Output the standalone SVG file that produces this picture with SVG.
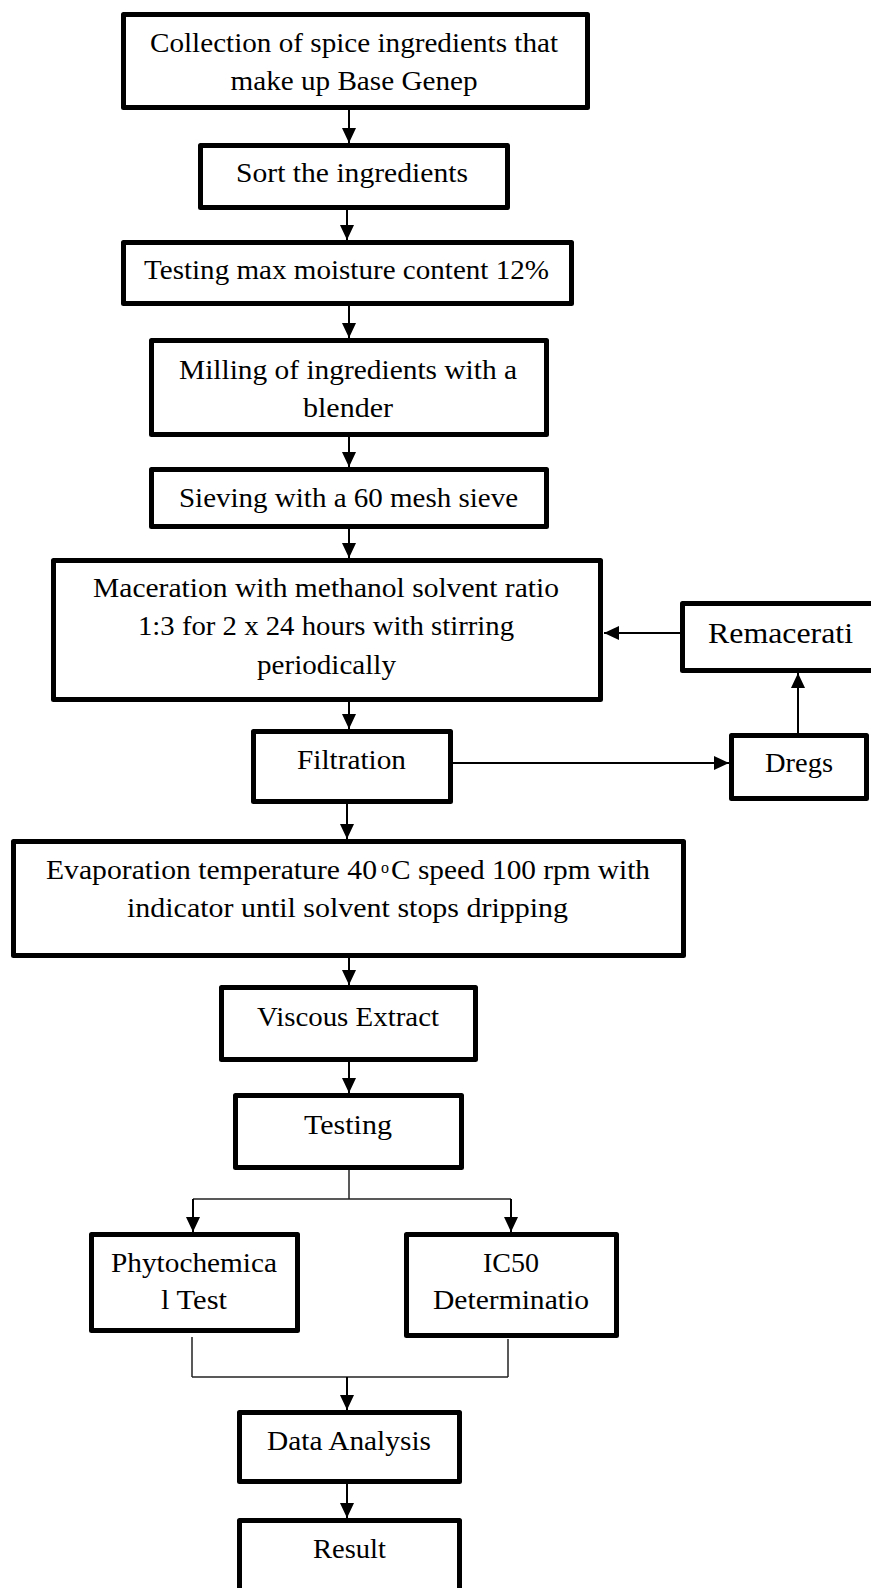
<svg xmlns="http://www.w3.org/2000/svg" width="871" height="1588" viewBox="0 0 871 1588">
<defs>
<marker id="ah" markerUnits="userSpaceOnUse" markerWidth="15" markerHeight="14" refX="15" refY="7" orient="auto">
<path d="M0,0 L15,7 L0,14 Z" fill="#000"/>
</marker>
<style>
.box{fill:#fff;stroke:#000;stroke-width:5;stroke-linejoin:round}
.t{font-family:"Liberation Serif","Times New Roman",serif;font-size:28px;fill:#000;text-anchor:middle}
.s{text-anchor:start}
.a{fill:none;stroke:#000;stroke-width:2;marker-end:url(#ah)}
.th{fill:none;stroke:#222;stroke-width:1.5}
</style>
</defs>
<rect width="871" height="1588" fill="#fff"/>
<g id="connectors">
<line class="a" x1="349" y1="110" x2="349" y2="143"/>
<line class="a" x1="347" y1="210" x2="347" y2="240"/>
<line class="a" x1="349" y1="306" x2="349" y2="338"/>
<line class="a" x1="349" y1="437" x2="349" y2="467"/>
<line class="a" x1="349" y1="529" x2="349" y2="558"/>
<line class="a" x1="349" y1="702" x2="349" y2="729"/>
<line class="a" x1="453" y1="763" x2="729" y2="763"/>
<line class="a" x1="798" y1="733" x2="798" y2="673"/>
<line class="a" x1="680" y1="633" x2="604" y2="633"/>
<line class="a" x1="347" y1="804" x2="347" y2="839"/>
<line class="a" x1="349" y1="958" x2="349" y2="985"/>
<line class="a" x1="349" y1="1062" x2="349" y2="1093"/>
<line class="th" x1="349" y1="1170" x2="349" y2="1199"/>
<line class="th" x1="193" y1="1199" x2="511" y2="1199"/>
<line class="a" x1="193" y1="1199" x2="193" y2="1232"/>
<line class="a" x1="511" y1="1199" x2="511" y2="1232"/>
<line class="th" x1="192" y1="1337" x2="192" y2="1377"/>
<line class="th" x1="508" y1="1339" x2="508" y2="1377"/>
<line class="th" x1="192" y1="1377" x2="508" y2="1377"/>
<line class="a" x1="347" y1="1377" x2="347" y2="1410"/>
<line class="a" x1="347" y1="1484" x2="347" y2="1518"/>
</g>
<g id="n1"><rect class="box" x="123.5" y="14.5" width="464" height="93"/>
<text class="t" x="354" y="52" textLength="408" lengthAdjust="spacingAndGlyphs">Collection of spice ingredients that</text>
<text class="t" x="354" y="90" textLength="247" lengthAdjust="spacingAndGlyphs">make up Base Genep</text></g>
<g id="n2"><rect class="box" x="200.5" y="145.5" width="307" height="62"/>
<text class="t" x="352" y="182" textLength="232" lengthAdjust="spacingAndGlyphs">Sort the ingredients</text></g>
<g id="n3"><rect class="box" x="123.5" y="242.5" width="448" height="61"/>
<text class="t" x="346.5" y="279" textLength="405" lengthAdjust="spacingAndGlyphs">Testing max moisture content 12%</text></g>
<g id="n4"><rect class="box" x="151.5" y="340.5" width="395" height="94"/>
<text class="t" x="348" y="379" textLength="338" lengthAdjust="spacingAndGlyphs">Milling of ingredients with a</text>
<text class="t" x="348" y="417" textLength="90" lengthAdjust="spacingAndGlyphs">blender</text></g>
<g id="n5"><rect class="box" x="151.5" y="469.5" width="395" height="57"/>
<text class="t" x="348.5" y="507" textLength="339" lengthAdjust="spacingAndGlyphs">Sieving with a 60 mesh sieve</text></g>
<g id="n6"><rect class="box" x="53.5" y="560.5" width="547" height="139"/>
<text class="t" x="326" y="597" textLength="466" lengthAdjust="spacingAndGlyphs">Maceration with methanol solvent ratio</text>
<text class="t" x="326" y="635" textLength="376" lengthAdjust="spacingAndGlyphs">1:3 for 2 x 24 hours with stirring</text>
<text class="t" x="326.5" y="674" textLength="139" lengthAdjust="spacingAndGlyphs">periodically</text></g>
<g id="n7"><rect class="box" x="682.5" y="603.5" width="200" height="67"/>
<text class="t" x="780.5" y="643" textLength="145" lengthAdjust="spacingAndGlyphs" style="font-size:30px">Remacerati</text></g>
<g id="n8"><rect class="box" x="253.5" y="731.5" width="197" height="70"/>
<text class="t" x="351.5" y="769" textLength="109" lengthAdjust="spacingAndGlyphs">Filtration</text></g>
<g id="n9"><rect class="box" x="731.5" y="735.5" width="135" height="63"/>
<text class="t" x="799" y="772" textLength="68" lengthAdjust="spacingAndGlyphs">Dregs</text></g>
<g id="n10"><rect class="box" x="13.5" y="841.5" width="670" height="114"/>
<text class="t s" x="46" y="879" textLength="331" lengthAdjust="spacingAndGlyphs">Evaporation temperature 40</text>
<text class="t" x="385" y="873" style="font-size:16px">o</text>
<text class="t s" x="391" y="879" textLength="259" lengthAdjust="spacingAndGlyphs">C speed 100 rpm with</text>
<text class="t" x="347.5" y="917" textLength="441" lengthAdjust="spacingAndGlyphs">indicator until solvent stops dripping</text></g>
<g id="n11"><rect class="box" x="221.5" y="987.5" width="254" height="72"/>
<text class="t" x="348" y="1026" textLength="182" lengthAdjust="spacingAndGlyphs">Viscous Extract</text></g>
<g id="n12"><rect class="box" x="235.5" y="1095.5" width="226" height="72"/>
<text class="t" x="348" y="1134" textLength="88" lengthAdjust="spacingAndGlyphs">Testing</text></g>
<g id="n13"><rect class="box" x="91.5" y="1234.5" width="206" height="96"/>
<text class="t" x="194" y="1272" textLength="166" lengthAdjust="spacingAndGlyphs">Phytochemica</text>
<text class="t" x="194" y="1309" textLength="66" lengthAdjust="spacingAndGlyphs">l Test</text></g>
<g id="n14"><rect class="box" x="406.5" y="1234.5" width="210" height="101"/>
<text class="t" x="511" y="1272" textLength="56" lengthAdjust="spacingAndGlyphs">IC50</text>
<text class="t" x="511" y="1309" textLength="156" lengthAdjust="spacingAndGlyphs">Determinatio</text></g>
<g id="n15"><rect class="box" x="239.5" y="1412.5" width="220" height="69"/>
<text class="t" x="349" y="1450" textLength="164" lengthAdjust="spacingAndGlyphs">Data Analysis</text></g>
<g id="n16"><rect class="box" x="239.5" y="1520.5" width="220" height="100"/>
<text class="t" x="349.5" y="1558" textLength="73" lengthAdjust="spacingAndGlyphs">Result</text></g>
</svg>
